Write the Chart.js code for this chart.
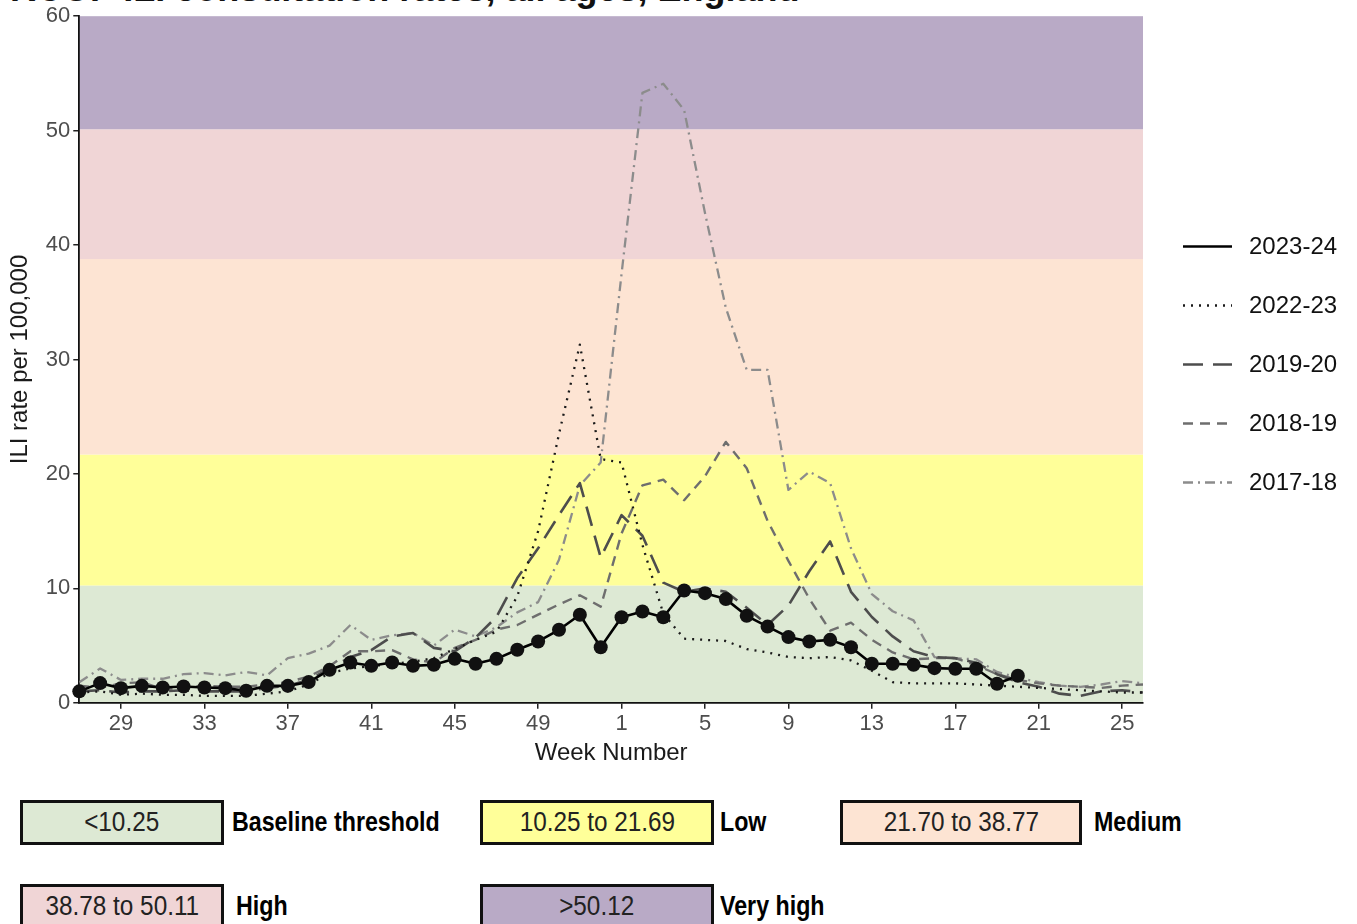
<!DOCTYPE html>
<html>
<head>
<meta charset="utf-8">
<title>RCGP ILI consultation rates, all ages, England</title>
<script src="https://cdn.jsdelivr.net/npm/chart.js@4.4.1/dist/chart.umd.min.js"></script>
<style>
    body { margin: 0; background: #fff; font-family: "Liberation Sans", Arial, sans-serif; overflow: hidden; }
    #page { position: relative; width: 1357px; height: 924px; overflow: hidden; }
    #title { position: absolute; left: 10px; top: -29px; font-size: 36px; line-height: 36px; font-weight: bold; white-space: nowrap; color: #111; }
    #chart { position: absolute; left: 0; top: 0; }
    .key-box { position: absolute; height: 45px; border: 3px solid #111; box-sizing: border-box;
               display: flex; align-items: center; justify-content: center; overflow: hidden; }
    .key-box span { display: inline-block; font-size: 27px; color: #222; transform: scaleX(0.9); white-space: nowrap; }
    .key-name { position: absolute; height: 45px; display: flex; align-items: center; }
    .key-name span { display: inline-block; font-size: 27px; font-weight: bold; color: #000;
                     transform: scaleX(0.86); transform-origin: left center; white-space: nowrap; }
</style>
</head>
<body>
<div id="page">
    <div id="title">RCGP ILI consultation rates, all ages, England</div>
    <canvas id="chart" width="1357" height="780"></canvas>
    <div id="key"></div>
</div>
<script>
// Недели сезона: с 27-й по 52-ю, затем с 1-й по 26-ю
const weeks = [27, 28, 29, 30, 31, 32, 33, 34, 35, 36, 37, 38, 39, 40, 41, 42, 43, 44, 45, 46, 47, 48, 49, 50, 51, 52,
               1, 2, 3, 4, 5, 6, 7, 8, 9, 10, 11, 12, 13, 14, 15, 16, 17, 18, 19, 20, 21, 22, 23, 24, 25, 26];
const tickWeeks = [29, 33, 37, 41, 45, 49, 1, 5, 9, 13, 17, 21, 25];

const seasonNames = ['2023-24', '2022-23', '2019-20', '2018-19', '2017-18'];

const season2324 = [1.0, 1.72, 1.28, 1.48, 1.34, 1.43, 1.34, 1.28, 1.05, 1.48, 1.48, 1.81, 2.88, 3.52, 3.23, 3.52,
                    3.23, 3.32, 3.84, 3.41, 3.84, 4.63, 5.36, 6.38, 7.69, 4.86, 7.48, 7.98, 7.48, 9.81, 9.58, 9.06,
                    7.6, 6.66, 5.74, 5.36, 5.5, 4.86, 3.41, 3.41, 3.32, 3.03, 2.97, 2.97, 1.66, 2.36];
const season2223 = [0.9, 1.0, 0.7, 0.8, 0.7, 0.7, 0.6, 0.6, 0.6, 0.8, 1.0, 1.6, 2.6, 3.0, 3.2, 3.4, 3.6, 3.9, 4.7,
                    5.5, 6.2, 9.3, 15.0, 23.5, 31.3, 21.3, 21.0, 13.8, 7.8, 5.6, 5.5, 5.4, 4.7, 4.4, 4.0, 3.9, 4.0,
                    3.7, 2.8, 1.8, 1.7, 1.7, 1.7, 1.6, 1.5, 1.4, 1.3, 1.2, 1.1, 1.0, 0.9, 0.9];
const season1920 = [1.0, 1.1, 0.9, 1.0, 1.0, 1.1, 1.0, 1.0, 1.0, 1.3, 1.5, 2.0, 3.0, 4.0, 4.6, 5.8, 6.1, 4.8, 4.5,
                    5.7, 7.5, 10.9, 13.5, 16.4, 19.2, 12.7, 16.4, 14.6, 10.5, 9.7, 10.0, 9.7, 8.3, 6.8, 8.5, 11.5,
                    14.1, 9.7, 7.5, 5.8, 4.5, 4.0, 3.9, 3.5, 2.5, 1.8, 1.4, 0.8, 0.6, 1.0, 1.1, 0.9];
const season1819 = [1.5, 1.3, 1.7, 1.8, 1.2, 1.3, 1.5, 1.4, 1.4, 1.6, 1.8, 2.3, 3.2, 4.5, 4.5, 4.6, 3.8, 3.5, 4.8,
                    5.5, 6.4, 6.8, 7.7, 8.6, 9.4, 8.4, 14.8, 19.0, 19.5, 17.7, 19.8, 22.8, 20.5, 15.9, 12.4, 9.1,
                    6.3, 7.0, 5.5, 4.4, 3.8, 3.9, 3.9, 3.3, 2.5, 2.0, 1.7, 1.5, 1.4, 1.3, 1.5, 1.6];
const season1718 = [1.8, 3.0, 2.0, 2.1, 2.1, 2.5, 2.6, 2.4, 2.7, 2.4, 3.9, 4.3, 5.0, 6.8, 5.5, 5.9, 6.1, 5.0, 6.4,
                    5.8, 6.6, 7.9, 8.8, 12.5, 19.0, 21.0, 37.5, 53.3, 54.1, 51.8, 42.8, 34.5, 29.1, 29.1, 18.6,
                    20.2, 19.2, 13.5, 9.5, 8.0, 7.2, 4.0, 3.9, 3.8, 2.7, 2.2, 1.8, 1.5, 1.4, 1.6, 1.9, 1.7];

// Пороги интенсивности и подписи к ним
const thresholds = [0, 10.25, 21.70, 38.78, 50.12, 60];
const bandColors = ['#dde9d4', '#ffff99', '#fde4d3', '#f0d5d6', '#b9aac6'];
const bandRanges = ['<10.25', '10.25 to 21.69', '21.70 to 38.77', '38.78 to 50.11', '>50.12'];
const bandNames = ['Baseline threshold', 'Low', 'Medium', 'High', 'Very high'];

const FONT = '"Liberation Sans", Arial, sans-serif';

function toPoints(values) {
    return values.map((v, i) => ({ x: i, y: v }));
}

const styles = [
    { color: '#000000', width: 2.6, dash: [] },
    { color: '#1a1a1a', width: 2.3, dash: [2, 6] },
    { color: '#4d4d4d', width: 2.6, dash: [20, 10] },
    { color: '#6e6e6e', width: 2.4, dash: [10, 7] },
    { color: '#8c8c8c', width: 2.3, dash: [10, 5, 2, 5] }
];
const seriesList = [season2324, season2223, season1920, season1819, season1718];

// Цветные полосы уровней — рисуем под линиями по шкале y
const bandsPlugin = {
    id: 'bands',
    beforeDraw(chart) {
        const { ctx, chartArea, scales } = chart;
        ctx.save();
        for (let i = 0; i < bandColors.length; i++) {
            const yTop = scales.y.getPixelForValue(thresholds[i + 1]);
            const yBottom = scales.y.getPixelForValue(thresholds[i]);
            ctx.fillStyle = bandColors[i];
            ctx.fillRect(chartArea.left, yTop, chartArea.right - chartArea.left, yBottom - yTop);
        }
        ctx.restore();
    }
};

// Легенда справа: отрезок линии нужного стиля + подпись сезона
const seasonLegendPlugin = {
    id: 'seasonLegend',
    afterDraw(chart) {
        const { ctx, chartArea } = chart;
        const x0 = chartArea.right + 40;
        const yMid = (chartArea.top + chartArea.bottom) / 2 + 5;
        const step = 59;
        ctx.save();
        seasonNames.forEach((name, i) => {
            const y = yMid + (i - 2) * step;
            ctx.beginPath();
            ctx.strokeStyle = styles[i].color;
            ctx.lineWidth = styles[i].width;
            ctx.setLineDash(styles[i].dash);
            ctx.moveTo(x0, y);
            ctx.lineTo(x0 + 49, y);
            ctx.stroke();
            ctx.setLineDash([]);
            ctx.fillStyle = '#111';
            ctx.font = '24px ' + FONT;
            ctx.textBaseline = 'middle';
            ctx.fillText(name, x0 + 66, y + 1);
        });
        ctx.restore();
    }
};

const datasets = seriesList.map((values, i) => ({
    label: seasonNames[i],
    data: toPoints(values),
    borderColor: styles[i].color,
    backgroundColor: styles[i].color,
    borderWidth: styles[i].width,
    borderDash: styles[i].dash,
    borderJoinStyle: 'round',
    tension: 0,
    pointRadius: i === 0 ? 7 : 0,
    pointHoverRadius: i === 0 ? 7 : 0,
    pointBackgroundColor: '#111',
    pointBorderWidth: 0,
    clip: i === 0 ? false : undefined
}));

Chart.defaults.font.family = FONT;

new Chart(document.getElementById('chart'), {
    type: 'line',
    data: { datasets },
    options: {
        responsive: false,
        animation: false,
        layout: { padding: { top: 16, right: 214, left: 0, bottom: 0 } },
        scales: {
            x: {
                type: 'linear',
                min: 0,
                max: weeks.length - 1,
                afterBuildTicks: scale => {
                    scale.ticks = tickWeeks.map(w => ({ value: weeks.indexOf(w) }));
                },
                ticks: {
                    autoSkip: false,
                    maxRotation: 0,
                    color: '#4d4d4d',
                    font: { size: 22 },
                    padding: 2,
                    callback: value => weeks[value]
                },
                grid: { drawOnChartArea: false, drawTicks: true, tickLength: 6, color: '#222', lineWidth: 1.5 },
                border: { display: true, color: '#111', width: 1.8 },
                title: { display: true, text: 'Week Number', color: '#1a1a1a', font: { size: 24 }, padding: { top: 0, bottom: 12 } }
            },
            y: {
                min: 0,
                max: 60,
                ticks: { stepSize: 10, color: '#4d4d4d', font: { size: 22 }, padding: 3 },
                grid: { drawOnChartArea: false, drawTicks: true, tickLength: 6, color: '#222', lineWidth: 1.5 },
                border: { display: true, color: '#111', width: 1.8 },
                title: { display: true, text: 'ILI rate per 100,000', color: '#1a1a1a', font: { size: 24 }, padding: { top: 6, bottom: 8 } }
            }
        },
        plugins: {
            legend: { display: false },
            tooltip: { enabled: false }
        }
    },
    plugins: [bandsPlugin, seasonLegendPlugin]
});

// Нижняя легенда с порогами
const keyLeft = [20, 480, 840, 20, 480];
const keyTop = [800, 800, 800, 884, 884];
const keyWidth = [204, 234, 242, 204, 234];
const keyGap = [8, 6, 12, 12, 6];
const keyEl = document.getElementById('key');

bandRanges.forEach((text, i) => {
    const box = document.createElement('div');
    box.className = 'key-box';
    box.style.left = keyLeft[i] + 'px';
    box.style.top = keyTop[i] + 'px';
    box.style.width = keyWidth[i] + 'px';
    box.style.background = bandColors[i];
    box.innerHTML = `<span>${text.replace('<', '&lt;').replace('>', '&gt;')}</span>`;
    keyEl.appendChild(box);

    const name = document.createElement('div');
    name.className = 'key-name';
    name.style.left = (keyLeft[i] + keyWidth[i] + keyGap[i]) + 'px';
    name.style.top = keyTop[i] + 'px';
    name.innerHTML = `<span>${bandNames[i]}</span>`;
    keyEl.appendChild(name);
});
</script>
</body>
</html>
